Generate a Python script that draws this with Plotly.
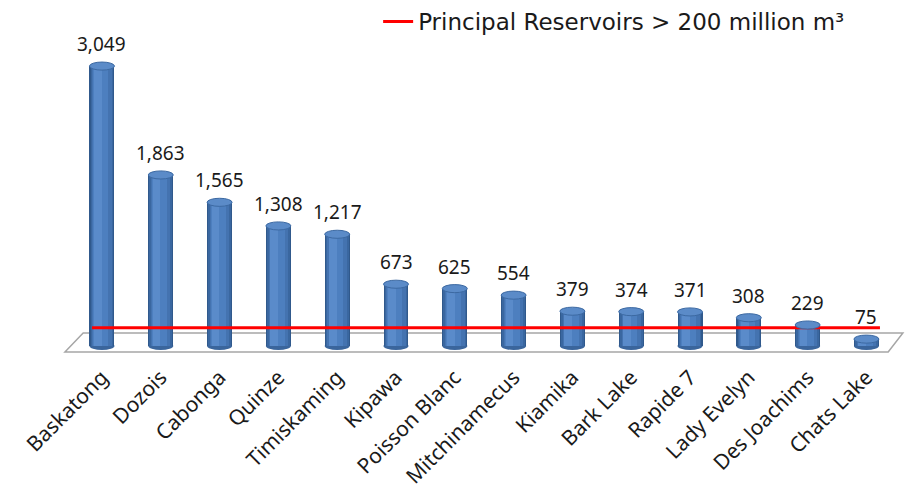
import plotly.graph_objects as go

# Reservoir capacities (million m³)
reservoirs = ["Baskatong", "Dozois", "Cabonga", "Quinze", "Timiskaming", "Kipawa",
              "Poisson Blanc", "Mitchinamecus", "Kiamika", "Bark Lake", "Rapide 7",
              "Lady Evelyn", "Des Joachims", "Chats Lake"]
capacity = [3049, 1863, 1565, 1308, 1217, 673, 625, 554, 379, 374, 371, 308, 229, 75]
threshold = 200
threshold_label = "Principal Reservoirs > 200 million m³"

xs = list(range(len(reservoirs)))

fig = go.Figure()

# cylinder body: stacked bars of decreasing width give a rounded shading
layers = [
    (0.425, 0.0, "#30598c"),
    (0.385, 0.0, "#3a67a0"),
    (0.33, 0.0, "#4473b0"),
    (0.25, -0.02, "#4d7fbf"),
    (0.13, -0.07, "#5a8bca"),
]
for w, shift, col in layers:
    fig.add_trace(go.Bar(
        x=[x + shift for x in xs], y=capacity, width=w,
        marker=dict(color=col, line=dict(width=0)),
        showlegend=False, hoverinfo="skip",
    ))

# threshold line
fig.add_trace(go.Scatter(
    x=[-0.17, len(reservoirs) - 0.77], y=[threshold, threshold],
    mode="lines", line=dict(color="#ff0000", width=3),
    name=threshold_label,
))

shapes = []
# floor of the chart
shapes.append(dict(
    type="path", xref="x", yref="y", layer="below",
    path="M -0.63 -65 L -0.32 142 L 13.62 142 L 13.37 -65 Z",
    fillcolor="#ffffff", line=dict(color="#a6a6a6", width=1.5),
))
ell_h = 44
half_w = 0.2125
for x, v in zip(xs, capacity):
    # base of the cylinder
    shapes.append(dict(
        type="circle", xref="x", yref="y", layer="below",
        x0=x - half_w, x1=x + half_w, y0=-ell_h, y1=ell_h,
        fillcolor="#3a659c", line=dict(width=0),
    ))
    # top cap
    shapes.append(dict(
        type="circle", xref="x", yref="y", layer="above",
        x0=x - half_w, x1=x + half_w, y0=v - ell_h, y1=v + ell_h,
        fillcolor="#5b8bc8", line=dict(color="#3c69a2", width=1),
    ))

annotations = [
    dict(x=x, y=v, text=f"{v:,}", showarrow=False, yanchor="bottom", yshift=7,
         font=dict(family="Noto Sans", size=19, color="#1a1a1a"))
    for x, v in zip(xs, capacity)
]

fig.update_layout(
    width=907, height=493,
    margin=dict(l=40, r=0, t=30, b=133, autoexpand=False),
    paper_bgcolor="white", plot_bgcolor="white",
    barmode="overlay", bargap=0,
    shapes=shapes, annotations=annotations,
    showlegend=True,
    legend=dict(x=0.39, y=1.0, xref="paper", yref="container",
                xanchor="left", yanchor="top",
                font=dict(family="DejaVu Sans", size=23, color="#1a1a1a"),
                bgcolor="rgba(0,0,0,0)"),
    xaxis=dict(range=[-1.054, 13.69], tickmode="array", tickvals=xs,
               ticktext=reservoirs, tickangle=-45, showgrid=False,
               zeroline=False, showline=False, ticks="",
               tickfont=dict(family="Noto Sans", size=21, color="#1a1a1a")),
    yaxis=dict(range=[-152.5, 3442], visible=False, showgrid=False, zeroline=False),
)

fig.write_html("out.html")
